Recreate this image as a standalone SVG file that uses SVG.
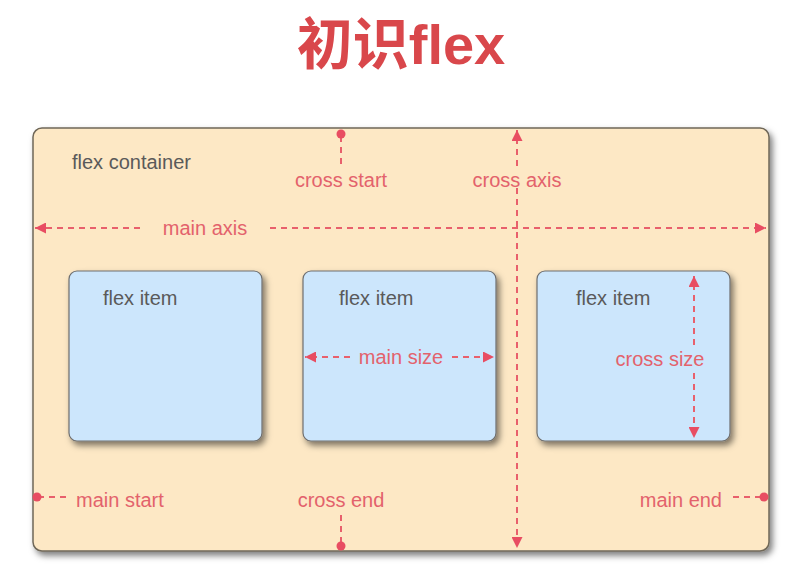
<svg xmlns="http://www.w3.org/2000/svg" width="801" height="574" viewBox="0 0 801 574">
<defs>
<filter id="sh" x="-10%" y="-10%" width="120%" height="125%">
<feDropShadow dx="3" dy="4" stdDeviation="3" flood-color="#000" flood-opacity="0.5"/>
</filter>
<marker id="ar" viewBox="0 0 10 10" refX="10" refY="5" markerWidth="12" markerHeight="11" markerUnits="userSpaceOnUse" orient="auto-start-reverse">
<path d="M0,0 L10,5 L0,10 z" fill="#e84d62"/>
</marker>
<style>
.lbl{font-family:"Liberation Sans",Arial,sans-serif;font-size:20px;fill:#e3626c}
.dark{font-family:"Liberation Sans",Arial,sans-serif;font-size:20px;fill:#5a5a5a}
.ln{stroke:#e8606c;stroke-width:2;stroke-dasharray:6 5;fill:none}
.dot{fill:#e84d62}
.item{fill:#cce6fc;stroke:#6e6e6e;stroke-width:1.2}
</style>
</defs>
<rect width="801" height="574" fill="#ffffff"/>
<text x="401" y="64" text-anchor="middle" font-family="'Liberation Sans','Noto Sans CJK SC',sans-serif" font-weight="bold" font-size="56" fill="#d9474b">初识flex</text>
<g id="container">
<rect x="33" y="128" width="736" height="423" rx="9" fill="#fde8c5" stroke="#6f6758" stroke-width="1.5" filter="url(#sh)"/>
<text class="dark" x="72" y="169">flex container</text>
</g>
<g id="item1">
<rect class="item" x="69" y="271" width="193" height="170" rx="8" filter="url(#sh)"/>
<text class="dark" x="103" y="305">flex item</text>
</g>
<g id="item2">
<rect class="item" x="303" y="271" width="193" height="170" rx="8" filter="url(#sh)"/>
<text class="dark" x="339" y="305">flex item</text>
</g>
<g id="item3">
<rect class="item" x="537" y="271" width="193" height="170" rx="8" filter="url(#sh)"/>
<text class="dark" x="576" y="305">flex item</text>
</g>
<g id="connectors">
<path class="ln" d="M140,228 H35" marker-end="url(#ar)"/>
<path class="ln" d="M270,228 H766" marker-end="url(#ar)"/>
<path class="ln" d="M517,166 V130" marker-end="url(#ar)"/>
<path class="ln" d="M517,188 V548" marker-end="url(#ar)"/>
<path class="ln" d="M341,136 V166"/>
<circle class="dot" cx="341" cy="134" r="4.5"/>
<path class="ln" d="M350,357 H305" marker-end="url(#ar)"/>
<path class="ln" d="M452,357 H494" marker-end="url(#ar)"/>
<path class="ln" d="M694,345 V276" marker-end="url(#ar)"/>
<path class="ln" d="M694,373 V438" marker-end="url(#ar)"/>
<path class="ln" d="M66,497 H40"/>
<circle class="dot" cx="37" cy="497" r="4.5"/>
<path class="ln" d="M341,515 V543"/>
<circle class="dot" cx="341" cy="546" r="4.5"/>
<path class="ln" d="M733,497 H760"/>
<circle class="dot" cx="764" cy="497" r="4.5"/>
</g>
<g id="labels">
<text class="lbl" x="341" y="187" text-anchor="middle">cross start</text>
<text class="lbl" x="517" y="187" text-anchor="middle">cross axis</text>
<text class="lbl" x="205" y="235" text-anchor="middle">main axis</text>
<text class="lbl" x="401" y="364" text-anchor="middle">main size</text>
<text class="lbl" x="660" y="366" text-anchor="middle">cross size</text>
<text class="lbl" x="76" y="507">main start</text>
<text class="lbl" x="341" y="507" text-anchor="middle">cross end</text>
<text class="lbl" x="722" y="507" text-anchor="end">main end</text>
</g>
</svg>
